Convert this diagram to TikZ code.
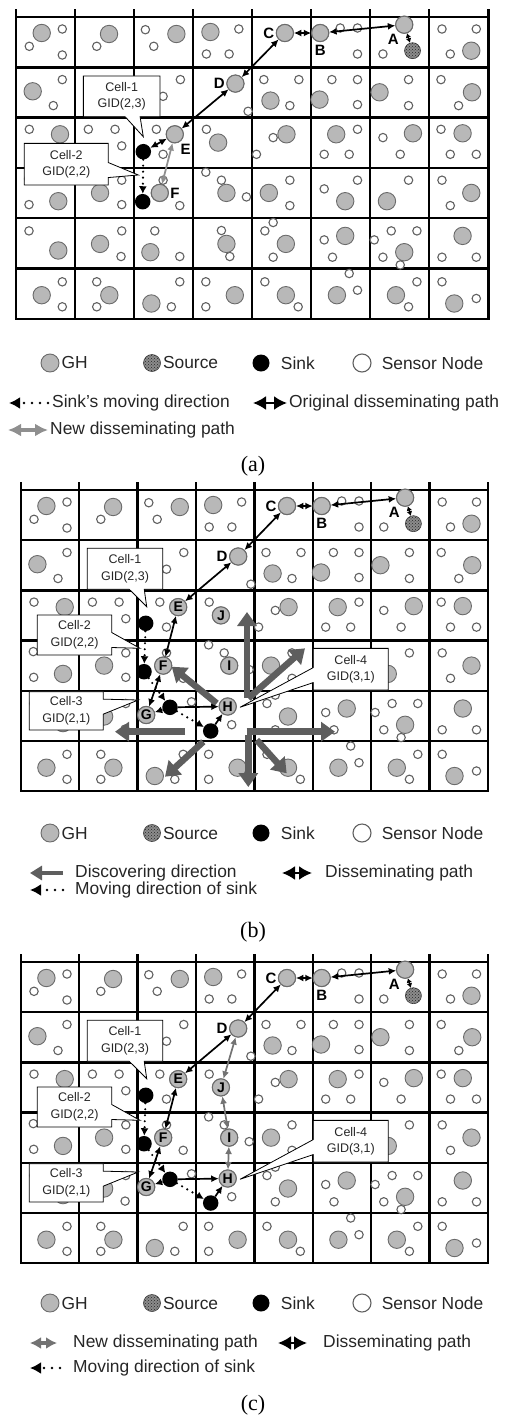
\documentclass[tikz,border=0pt]{standalone}
\usepackage{fontspec}
\setmainfont{Liberation Sans}
\newfontfamily\capfont{Liberation Serif}
\usetikzlibrary{arrows.meta,shapes.callouts,patterns,positioning}

\definecolor{ghfill}{gray}{0.72}
\definecolor{ghline}{gray}{0.42}
\definecolor{snline}{gray}{0.38}
\definecolor{newgray}{gray}{0.56}
\definecolor{newgrayc}{gray}{0.45}
\definecolor{discgray}{gray}{0.37}
\definecolor{txt}{gray}{0.15}

\tikzset{
  gridln/.style={line width=2.4pt, line cap=rect},
  gh/.style={fill=ghfill, draw=ghline, line width=0.9pt},
  sn/.style={fill=white, draw=snline, line width=1.1pt},
  ghn/.style={circle, gh, minimum size=17pt, inner sep=0pt, font=\bfseries\fontsize{14}{14}\selectfont},
  sink/.style={circle, fill=black, minimum size=15.5pt, inner sep=0pt},
  srcn/.style={circle, fill=black!45, draw=black!75, line width=0.6pt, minimum size=16pt, inner sep=0pt,
    postaction={pattern=crosshatch dots, pattern color=black!85}},
  lbl/.style={font=\bfseries\fontsize{15}{15}\selectfont, inner sep=1.5pt},
  dis/.style={line width=1.7pt, {Latex[length=7.5pt,width=7pt]}-{Latex[length=7.5pt,width=7pt]}},
  dis1/.style={line width=1.7pt, -{Latex[length=7.5pt,width=7pt]}},
  dissm/.style={line width=1.4pt, {Latex[length=4.5pt,width=5.5pt]}-{Latex[length=4.5pt,width=5.5pt]}},
  newdis/.style={dis, color=newgray, line width=1.8pt},
  newdisc/.style={dis, color=newgrayc},
  mov/.style={line width=2.4pt, line cap=round, dash pattern=on 0pt off 6pt, -{Latex[length=7.5pt,width=8pt]}},
  disc/.style={line width=6.5pt, color=discgray, -{Triangle[length=14pt,width=19pt]}},
  cellbox/.style={rectangle callout, draw=black, line width=0.8pt, fill=white, align=center, text=txt,
    font=\fontsize{12.5}{16.5}\selectfont, callout pointer width=15pt, inner sep=1pt},
  leg/.style={font=\fontsize{17.4}{20}\selectfont, text=txt, anchor=west, inner sep=0pt},
  disleg/.style={line width=2.2pt, {Latex[length=13pt,width=14pt]}-{Latex[length=13pt,width=14pt]}},
  movleg/.style={line width=2.8pt, line cap=round, dash pattern=on 0pt off 8pt, -{Latex[length=11pt,width=12pt]}},
  newleg/.style={line width=3.8pt, color=newgray, {Latex[length=13pt,width=13pt]}-{Latex[length=13pt,width=13pt]}},
  newlegc/.style={line width=3.2pt, color=newgrayc, {Latex[length=11pt,width=12pt]}-{Latex[length=11pt,width=12pt]}},
  discleg/.style={line width=4.8pt, color=discgray, -{Triangle[length=12pt,width=14pt]}}
}

% one cell: row, column, GH position, sensor positions
\newcommand{\cellc}[5]{%
  \begin{scope}[shift={({(#2-1)*\cw},{(#1-1)*\rh})}]
    \draw[gh] (#3,#4) circle[radius=8.7pt];
    \def\slist{#5}%
    \ifx\slist\empty\else
      \foreach \sx/\sy in {#5} {\draw[sn] (\sx,\sy) circle[radius=4.2pt];}
    \fi
  \end{scope}}

\newcommand{\grid}{%
  \foreach \k in {0,...,6} \draw[gridln] (0,\k*\rh) -- (8*\cw,\k*\rh);
  \foreach \k in {0,...,8} \draw[gridln] (\k*\cw,-7) -- (\k*\cw,6*\rh);
}

\newcommand{\basecells}{%
  \cellc{1}{1}{25.7}{16}{46.3/12,13.3/29.3,46.3/38}
  \cellc{1}{2}{34}{17}{21.7/29.3}
  \cellc{1}{3}{42.3}{17}{11.3/12.7,19.7/29.3}
  \cellc{1}{4}{17.3}{15}{45.7/12,13.3/37,36/37}
  \cellc{1}{5}{32.7}{16}{}
  \cellc{1}{6}{9}{16}{29/11,46.3/11,46.3/37}
  \cellc{1}{7}{34}{7.7}{12.7/37}
  \cellc{1}{8}{42}{33.7}{12.7/12,47/12,21/37}
  \cellc{2}{1}{16.7}{24}{46.3/12.3,37.3/38.3}
  \cellc{2}{2}{30}{25}{}
  \cellc{2}{3}{12}{25}{46.3/12.3,29/29}
  \cellc{2}{4}{42.3}{16.3}{55/44}
  \cellc{2}{5}{18.3}{33.3}{11.7/12.3,46.7/12.3,37.7/38.3}
  \cellc{2}{6}{8.3}{32.3}{20.7/12.3,46.3/12.3,46.3/37.3}
  \cellc{2}{7}{9.3}{25}{38.3/12.3,38.3/38.3}
  \cellc{2}{8}{42.7}{25}{11.7/12.3,29.3/38.3}
  \cellc{3}{1}{44}{16.7}{13.3/11.7}
  \cellc{3}{2}{20}{38}{13.3/11.7,40/11.7,46.7/28.3}
  \cellc{3}{3}{40.7}{16.7}{22.3/11.7,29/36.7}
  \cellc{3}{4}{25}{25}{13.3/11.7}
  \cellc{3}{5}{34.3}{16.7}{21/20,4.3/36.7}
  \cellc{3}{6}{25}{16.7}{46.3/11.7,13/36.7,38/36.7}
  \cellc{3}{7}{42.7}{15.7}{12.7/20,30/36.7}
  \cellc{3}{8}{33.3}{15.7}{11.7/11.7,21/36.7,47/36.7}
  \cellc{4}{1}{42.3}{33.3}{12.6/11,13/36.7}
  \cellc{4}{2}{25}{25}{46.7/12.3,46.7/36.7}
  \cellc{4}{3}{25.7}{25}{29/12.3,45.7/37.7}
  \cellc{4}{4}{33.3}{25}{12.7/4.3,28.3/12.3,53.3/29}
  \cellc{4}{5}{16.7}{25}{37.7/12.3,37.7/37.7}
  \cellc{4}{6}{34}{33.3}{13/21,46.3/12.3}
  \cellc{4}{7}{16.7}{33.3}{38.3/12.3}
  \cellc{4}{8}{42}{25}{12.7/12.3,21/37.7}
  \cellc{5}{1}{42.3}{32.3}{13/12.7}
  \cellc{5}{2}{25}{25.7}{46.7/12.7,46/38.3}
  \cellc{5}{5}{33.7}{25.7}{12.7/12.7,21/4.3,21/39}
  \cellc{5}{6}{34}{17.7}{13/21.7,21.3/39}
  \cellc{5}{7}{34}{34}{4/21.7,21/12.7,46.7/12.7,12.7/39,30/46.7}
  \cellc{5}{8}{33.3}{17.7}{12.7/39,47/39}
  \cellc{6}{1}{25.7}{26.7}{46.3/13.3,46.3/38.3}
  \cellc{6}{2}{34.3}{26.7}{21.7/13.3,21.7/38.3}
  \cellc{6}{3}{17.3}{35}{45.7/13.3,37.3/38.3}
  \cellc{6}{4}{41.7}{26.7}{12.7/13.3,12.7/38.3}
  \cellc{6}{5}{33.7}{26.7}{12.7/13.3,46/38.3}
  \cellc{6}{6}{25.7}{26.7}{46.3/21.7,38/5}
  \cellc{6}{7}{25.7}{26.7}{46.7/13.3,38.3/38.3}
  \cellc{6}{8}{25}{35}{12.7/13.3,47/30}
}

% nodes shared by (b) and (c)
\newcommand{\bcnodes}{%
  \cellc{5}{3}{8.7}{24.2}{54/11}
  \cellc{5}{4}{31.8}{15.7}{35.8/33.9}
}
\newcommand{\bcpath}{%
  \node[srcn] (src) at ({6*\cw+42.3},33.7) {};
  \node[ghn, label={[lbl]-115:A}] (A) at ({6*\cw+34},7.7) {};
  \node[ghn, label={[lbl,label distance=2pt]below:B}] (B) at ({5*\cw+9},16) {};
  \node[ghn, label={[lbl]left:C}] (C) at ({4*\cw+32.7},16) {};
  \node[ghn, label={[lbl]left:D}] (D) at ({3*\cw+42.3},{\rh+16.3}) {};
  \node[ghn] (E) at ({2*\cw+40.7},{2*\rh+16.7}) {E};
  \node[ghn] (J) at ({3*\cw+25},{2*\rh+25}) {J};
  \node[ghn] (F) at ({2*\cw+25.7},{3*\rh+25}) {F};
  \node[ghn] (I) at ({3*\cw+33.3},{3*\rh+25}) {I};
  \node[ghn] (G) at ({2*\cw+8.7},{4*\rh+24.2}) {G};
  \node[ghn] (H) at ({3*\cw+31.8},{4*\rh+15.7}) {H};
  \node[sink] (s1) at (125,133.3) {};
  \node[sink] (s2) at (123.3,181.7) {};
  \node[sink] (s3) at (149.3,217.3) {};
  \node[sink] (s4) at (190,241) {};
  \draw[dis] (B) -- (A);
  \draw[dis] (C) -- (B);
  \draw[dissm] (A) -- (src);
  \draw[dis] (D) -- (C);
  \draw[dis] (E) -- (D);
  \draw[dis] (F) -- (E);
  \draw[dis] (G) -- (F);
  \draw[dis1] (s3) -- (G);
  \draw[dis1] (s3) -- (H);
  \draw[dis1] (s4) -- (H);
  \draw[mov] (s1) -- (s2);
  \draw[mov] (s2) -- (s3);
  \draw[mov] (s3) -- (s4);
}
\newcommand{\bccallouts}{%
  \coordinate (p1) at (126,116.7);
  \coordinate (p2) at (119.3,158.3);
  \coordinate (p3) at (117.6,210);
  \coordinate (p4) at (219.3,217.3);
  \node[cellbox, minimum width=75.4pt, minimum height=41pt, callout absolute pointer={(p1)}] (cell1) at (104.3,78.8) {Cell-1\\GID(2,3)};
  \node[cellbox, minimum width=74.4pt, minimum height=40pt, callout absolute pointer={(p2)}] (cell2) at (53.8,145) {Cell-2\\GID(2,2)};
  \node[cellbox, minimum width=74pt, minimum height=38.3pt, callout absolute pointer={(p3)}] (cell3) at (45.6,220.8) {Cell-3\\GID(2,1)};
  \node[cellbox, minimum width=75pt, minimum height=41.7pt, callout absolute pointer={(p4)}] (cell4) at (330.1,179.2) {Cell-4\\GID(3,1)};
}

\newcommand{\legtop}[2]{%
  \node[ghn, minimum size=18pt] (lgh#1) at (50,#2) {};
  \node[leg, right=2pt of lgh#1] {GH};
  \node[srcn, minimum size=17pt] (lso#1) at (152,#2) {};
  \node[leg, right=2pt of lso#1] {Source};
  \node[sink, minimum size=17pt] (lsi#1) at (261,#2) {};
  \node[leg, right=11pt of lsi#1] {Sink};
  \node[circle, sn, minimum size=18pt, inner sep=0pt] (lse#1) at (362,#2) {};
  \node[leg, right=10pt of lse#1] {Sensor Node};
}

\begin{document}
\begin{tikzpicture}[x=1pt,y=-1pt]
  \useasboundingbox (0,0) rectangle (507,1416);

  % (a)
  \begin{scope}[shift={(16,17)}]
    \def\cw{59.04}\def\rh{50.3}
    \grid
    \basecells
    \cellc{5}{3}{16.3}{34}{20.7/12.7,45.7/38.3}
    \cellc{5}{4}{33.3}{25.7}{28.3/12.3,36.7/38.3}
    \node[srcn] (src) at ({6*\cw+42.3},33.7) {};
    \node[ghn, label={[lbl]-115:A}] (A) at ({6*\cw+34},7.7) {};
    \node[ghn, label={[lbl,label distance=2pt]below:B}] (B) at ({5*\cw+9},16) {};
    \node[ghn, label={[lbl]left:C}] (C) at ({4*\cw+32.7},16) {};
    \node[ghn, label={[lbl]left:D}] (D) at ({3*\cw+42.3},{\rh+16.3}) {};
    \node[ghn, label={[lbl]-62:E}] (E) at ({2*\cw+40.7},{2*\rh+16.7}) {};
    \node[ghn, label={[lbl]right:F}] (F) at ({2*\cw+25.7},{3*\rh+25}) {};
    \node[sink] (s1) at (127.3,134.7) {};
    \node[sink] (s2) at (126.7,184.7) {};
    \draw[dis] (B) -- (A);
    \draw[dis] (C) -- (B);
    \draw[dissm] (A) -- (src);
    \draw[dis] (D) -- (C);
    \draw[dis] (E) -- (D);
    \draw[dis] (s1) -- (E);
    \draw[mov] (s1) -- (s2);
    \draw[newdis] (E) -- (F);
    \coordinate (p1) at (127.3,119.7);
    \coordinate (p2) at (122.3,158);
    \node[cellbox, minimum width=76.7pt, minimum height=40.7pt, callout absolute pointer={(p1)}] (cell1) at (105.7,79.3) {Cell-1\\GID(2,3)};
    \node[cellbox, minimum width=84pt, minimum height=41.7pt, callout absolute pointer={(p2)}] (cell2) at (50.3,147.2) {Cell-2\\GID(2,2)};
  \end{scope}

  \legtop{a}{363}
  \coordinate (ma) at (48,403);
  \draw[movleg] (ma) -- ++(-39,0);
  \node[leg] (lmova) at (52,403) {Sink's moving direction};
  \coordinate (oa) at (253,403);
  \draw[disleg] (oa) -- ++(34,0);
  \node[leg] (lora) at (289,403) {Original disseminating path};
  \coordinate (na) at (8,430);
  \draw[newleg] (na) -- ++(40,0);
  \node[leg] (lnewa) at (50,430) {New disseminating path};
  \node[font=\capfont\fontsize{22}{22}\selectfont] (capa) at (253,466) {(a)};

  % (b)
  \begin{scope}[shift={(20.7,490)}]
    \def\cw{58.4}\def\rh{50.2}
    \grid
    \basecells
    \bcnodes
    \foreach \ax/\ay/\bx/\by in {226.3/208/226.3/122, 227.6/208.3/284.3/158.3, 196/213.3/151/176.7,
        164.3/241.7/94.3/241.7, 226/241.7/314.3/241.7, 227.6/245/227.6/297,
        182.6/251.7/144.3/286.7, 236/250/266/283.3}
      \draw[disc] (\ax,\ay) -- (\bx,\by);
    \bcpath
    \bccallouts
  \end{scope}

  \legtop{b}{833}
  \coordinate (db) at (63,873);
  \draw[discleg] (db) -- ++(-33,0);
  \node[leg] (ldisb) at (75,873) {Discovering direction};
  \coordinate (ob) at (282,873);
  \draw[disleg] (ob) -- ++(30,0);
  \node[leg] (lorb) at (325,873) {Disseminating path};
  \coordinate (mb) at (63,890);
  \draw[movleg] (mb) -- ++(-33,0);
  \node[leg] (lmovb) at (75,890) {Moving direction of sink};
  \node[font=\capfont\fontsize{22}{22}\selectfont] (capb) at (253,932) {(b)};

  % (c)
  \begin{scope}[shift={(20.7,962)}]
    \def\cw{58.4}\def\rh{50.2}
    \grid
    \basecells
    \bcnodes
    \bcpath
    \draw[newdisc] (D) -- (J);
    \draw[newdisc] (J) -- (I);
    \draw[newdisc] (I) -- (H);
    \bccallouts
  \end{scope}

  \legtop{c}{1303}
  \coordinate (nc) at (30,1343);
  \draw[newlegc] (nc) -- ++(27,0);
  \node[leg] (lnewc) at (73,1343) {New disseminating path};
  \coordinate (oc) at (278,1343);
  \draw[disleg] (oc) -- ++(29,0);
  \node[leg] (lorc) at (323,1343) {Disseminating path};
  \coordinate (mc) at (60,1368);
  \draw[movleg] (mc) -- ++(-30,0);
  \node[leg] (lmovc) at (73,1368) {Moving direction of sink};
  \node[font=\capfont\fontsize{22}{22}\selectfont] (capc) at (253,1405) {(c)};
\end{tikzpicture}
\end{document}
